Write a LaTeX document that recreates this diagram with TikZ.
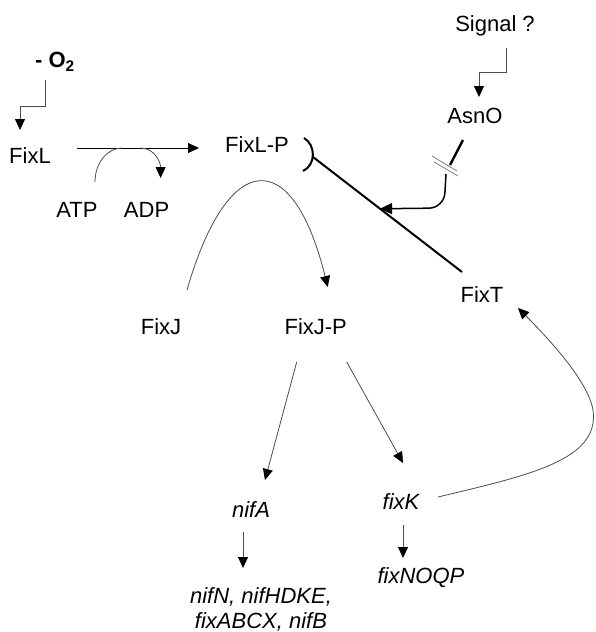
\documentclass[tikz,border=0pt]{standalone}
\usepackage{fontspec}
\setmainfont{Liberation Sans}
\usepackage{tikz}
\usetikzlibrary{arrows.meta,calc,positioning}
\tikzstyle{lbl}=[inner sep=2pt, font=\fontsize{22}{25}\selectfont]
\tikzstyle{gene}=[lbl, font=\fontsize{22}{25}\selectfont\itshape]
\tikzstyle{thin arrow}=[draw=black!70, line width=0.8pt, -{Triangle[length=11pt,width=10pt,color=black]}]
\tikzstyle{thin line}=[draw=black!70, line width=0.8pt]
\tikzstyle{blocker}=[line width=2pt]
\tikzstyle{breakbar}=[draw=black!55, line width=0.7pt]

\begin{document}
\begin{tikzpicture}[x=1pt,y=-1pt]
  \useasboundingbox (0,0) rectangle (595,632);

  \node[lbl, font=\fontsize{22}{25}\selectfont\bfseries] (oxy) at (55,62) {- O\textsubscript{2}};
  \node[lbl] (fixl) at (30,156) {FixL};
  \node[lbl] (fixlp) at (257,145) {FixL-P};
  \node[lbl] (atp) at (77,210) {ATP};
  \node[lbl, right = 22pt of atp] (adp) {ADP};
  \node[lbl] (signal) at (495,26) {Signal ?};
  \node[lbl] (asno) at (475,116) {AsnO};
  \node[lbl] (fixt) at (482,295) {FixT};
  \node[lbl] (fixj) at (161,327) {FixJ};
  \node[lbl, right = 99pt of fixj] (fixjp) {FixJ-P};
  \node[gene] (nifa) at (251,510) {nifA};
  \node[gene] (fixk) at (401,502) {fixK};
  \node[gene, align=center] (nifn) at (261,609) {nifN, nifHDKE,\\fixABCX, nifB};
  \node[gene] (fixnoqp) at (421,578) {fixNOQP};

  % phosphorylation of FixL
  \draw[thin arrow] ($(oxy)+(-10,18)$) -- ++(0,26) -| ($(fixl)+(-10,-26)$);
  \draw[thin arrow, draw=black] ($(fixl)+(47,-8)$) -- coordinate[pos=0.37] (atpin) coordinate[pos=0.52] (adpout) ($(fixlp)+(-58,3)$);
  \draw[thin line] ($(atp)+(18,-28)$) .. controls +(0,-19) and +(-15,0) .. (atpin);
  \draw[thin arrow] (adpout) .. controls +(14,0) and +(0,-16) .. ($(adp)+(14,-32)$);
  \draw[thin arrow] ($(fixj)+(26,-37)$) .. controls +(41,-142) and +(-35,-142) .. ($(fixjp)+(12,-40)$);

  % FixT / AsnO
  \draw[blocker] ($(fixlp)+(47,-7)$) .. controls +(12,7) and +(13,-6) .. ($(fixlp)+(46,26)$);
  \draw[blocker] ($(fixlp)+(56,12)$) -- coordinate[pos=0.45] (hit) ($(fixt)+(-20,-23)$);
  \draw[thin arrow] ($(signal)+(11,22)$) -- ++(0,24) -| ($(asno)+(4,-19)$);
  \draw[line width=2.4pt] ($(asno)+(-12,24)$) -- ($(asno)+(-25,49)$);
  \draw[breakbar] ($(asno)+(-43,40)$) -- ++(25,15);
  \draw[breakbar] ($(asno)+(-41,46)$) -- ++(24,14);
  \draw[line width=1.5pt, rounded corners=15pt, -{Triangle[length=12pt,width=11pt]}] ($(asno)+(-29,58)$) -- ($(asno)+(-31,92)$) -- (hit);

  % transcription
  \draw[thin arrow] ($(fixjp)+(-19,35)$) -- ($(nifa)+(14,-30)$);
  \draw[thin arrow] ($(fixjp)+(31,35)$) -- ($(fixk)+(2,-39)$);
  \draw[thin arrow] ($(nifa)+(-8,22)$) -- ($(nifn)+(-18,-41)$);
  \draw[thin arrow] ($(fixk)+(2,23)$) -- ($(fixnoqp)+(-18,-20)$);
  \draw[thin arrow] ($(fixk)+(37,-5)$) .. controls (530,475) and (600,460) .. (593,410)
    .. controls (588,380) and (545,335) .. ($(fixt)+(36,13)$);
\end{tikzpicture}
\end{document}
